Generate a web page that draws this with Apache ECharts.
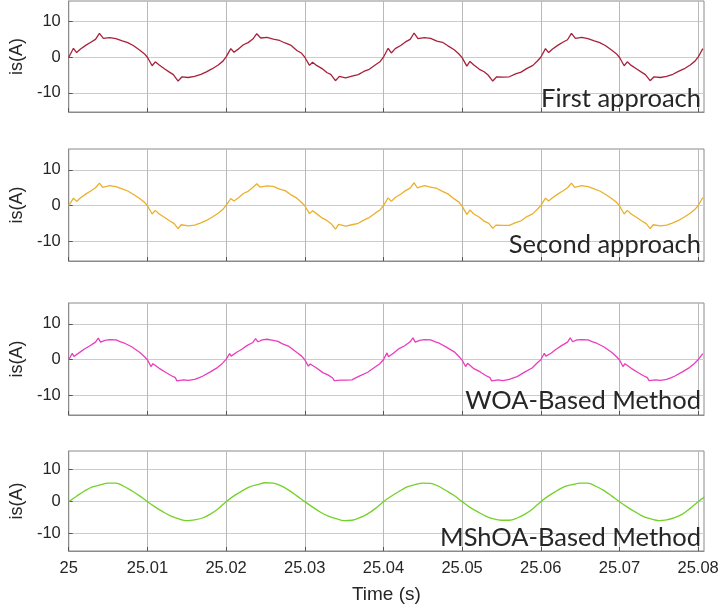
<!DOCTYPE html>
<html>
<head>
<meta charset="utf-8">
<script src="https://cdn.jsdelivr.net/npm/echarts@6/dist/echarts.min.js"></script>
<style>
  html, body { margin: 0; padding: 0; background: #fff; }
  #main { width: 722px; height: 605px; }
</style>
</head>
<body>
<div id="main"></div>
<script>
// tick labels
var xTicks = [25, 25.01, 25.02, 25.03, 25.04, 25.05, 25.06, 25.07, 25.08];
var yTicks = [-10, 0, 10];
var panelNames = ['First approach', 'Second approach', 'WOA-Based Method', 'MShOA-Based Method'];

// is(A) vs time
var firstApproach = [
  [25.0000,0],[25.0006,2.5],[25.0010,1.3],[25.0015,2.3],[25.0022,3.4],[25.0028,4.2],[25.0034,5.0],[25.0039,6.7],[25.0044,5.3],[25.0052,5.5],[25.0060,5.2],[25.0068,4.6],[25.0075,4.1],[25.0082,3.3],[25.0090,2.0],[25.0096,1.0],
  [25.0100,0],[25.0106,-2.4],[25.0110,-1.3],[25.0115,-2.2],[25.0122,-3.3],[25.0128,-4.2],[25.0133,-4.9],[25.0139,-6.7],[25.0144,-5.5],[25.0152,-5.7],[25.0160,-5.4],[25.0168,-4.8],[25.0175,-4.1],[25.0182,-3.3],[25.0190,-2.2],[25.0196,-1.1],
  [25.0200,0.1],[25.0206,2.4],[25.0210,1.4],[25.0215,2.2],[25.0222,3.5],[25.0228,4.1],[25.0234,5.1],[25.0239,6.6],[25.0244,5.4],[25.0252,5.6],[25.0260,5.1],[25.0268,4.7],[25.0275,4.0],[25.0282,3.4],[25.0290,1.9],[25.0296,1.1],
  [25.0300,0],[25.0306,-2.3],[25.0310,-1.4],[25.0315,-2.3],[25.0322,-3.2],[25.0328,-4.3],[25.0333,-4.8],[25.0339,-6.6],[25.0344,-5.4],[25.0352,-5.8],[25.0360,-5.3],[25.0368,-4.9],[25.0375,-4.0],[25.0382,-3.4],[25.0390,-2.1],[25.0396,-1.2],
  [25.0400,0],[25.0406,2.5],[25.0410,1.2],[25.0415,2.4],[25.0422,3.3],[25.0428,4.3],[25.0434,5.0],[25.0439,6.8],[25.0444,5.2],[25.0452,5.5],[25.0460,5.3],[25.0468,4.5],[25.0475,4.2],[25.0482,3.2],[25.0490,2.1],[25.0496,0.9],
  [25.0500,-0.1],[25.0506,-2.5],[25.0510,-1.2],[25.0515,-2.2],[25.0522,-3.4],[25.0528,-4.1],[25.0533,-5.0],[25.0539,-6.7],[25.0544,-5.5],[25.0552,-5.6],[25.0560,-5.5],[25.0568,-4.7],[25.0575,-4.2],[25.0582,-3.2],[25.0590,-2.3],[25.0596,-1.0],
  [25.0600,0],[25.0606,2.4],[25.0610,1.3],[25.0615,2.3],[25.0622,3.4],[25.0628,4.2],[25.0634,4.9],[25.0639,6.7],[25.0644,5.3],[25.0652,5.6],[25.0660,5.2],[25.0668,4.6],[25.0675,4.1],[25.0682,3.3],[25.0690,2.0],[25.0696,1.0],
  [25.0700,0],[25.0706,-2.4],[25.0710,-1.3],[25.0715,-2.3],[25.0722,-3.3],[25.0728,-4.2],[25.0733,-4.9],[25.0739,-6.6],[25.0744,-5.5],[25.0752,-5.7],[25.0760,-5.4],[25.0768,-4.8],[25.0775,-4.0],[25.0782,-3.3],[25.0790,-2.2],[25.0796,-1.1],
  [25.0800,0],[25.0806,2.4]
];
var secondApproach = [
  [25.0000,0],[25.0006,2.1],[25.0010,1.2],[25.0015,2.2],[25.0022,3.3],[25.0028,4.1],[25.0034,5.0],[25.0039,6.3],[25.0043,5.1],[25.0052,5.6],[25.0060,5.3],[25.0068,4.7],[25.0075,4.1],[25.0082,3.2],[25.0090,2.0],[25.0096,1.0],
  [25.0100,0],[25.0106,-2.3],[25.0110,-1.3],[25.0115,-2.3],[25.0122,-3.3],[25.0128,-4.2],[25.0134,-5.0],[25.0139,-6.4],[25.0143,-5.3],[25.0152,-5.6],[25.0160,-5.4],[25.0168,-4.8],[25.0175,-4.1],[25.0182,-3.2],[25.0190,-2.1],[25.0196,-1.0],
  [25.0200,0.1],[25.0206,2.0],[25.0210,1.3],[25.0215,2.1],[25.0222,3.4],[25.0228,4.0],[25.0234,5.1],[25.0239,6.1],[25.0243,5.2],[25.0252,5.5],[25.0260,5.4],[25.0268,4.6],[25.0275,4.2],[25.0282,3.1],[25.0290,2.1],[25.0296,0.9],
  [25.0300,0],[25.0306,-2.2],[25.0310,-1.4],[25.0315,-2.2],[25.0322,-3.4],[25.0328,-4.1],[25.0334,-5.1],[25.0339,-6.5],[25.0343,-5.2],[25.0352,-5.7],[25.0360,-5.3],[25.0368,-4.9],[25.0375,-4.0],[25.0382,-3.3],[25.0390,-2.0],[25.0396,-1.1],
  [25.0400,0],[25.0406,2.2],[25.0410,1.2],[25.0415,2.3],[25.0422,3.2],[25.0428,4.2],[25.0434,4.9],[25.0439,6.4],[25.0443,5.0],[25.0452,5.6],[25.0460,5.2],[25.0468,4.8],[25.0475,4.0],[25.0482,3.3],[25.0490,1.9],[25.0496,1.0],
  [25.0500,-0.1],[25.0506,-2.4],[25.0510,-1.2],[25.0515,-2.3],[25.0522,-3.2],[25.0528,-4.3],[25.0534,-4.9],[25.0539,-6.3],[25.0543,-5.4],[25.0552,-5.5],[25.0560,-5.5],[25.0568,-4.7],[25.0575,-4.2],[25.0582,-3.1],[25.0590,-2.2],[25.0596,-0.9],
  [25.0600,0],[25.0606,2.1],[25.0610,1.3],[25.0615,2.2],[25.0622,3.3],[25.0628,4.1],[25.0634,5.0],[25.0639,6.3],[25.0643,5.1],[25.0652,5.6],[25.0660,5.3],[25.0668,4.7],[25.0675,4.1],[25.0682,3.2],[25.0690,2.0],[25.0696,1.0],
  [25.0700,0],[25.0706,-2.3],[25.0710,-1.3],[25.0715,-2.3],[25.0722,-3.3],[25.0728,-4.2],[25.0734,-5.0],[25.0739,-6.4],[25.0743,-5.3],[25.0752,-5.6],[25.0760,-5.4],[25.0768,-4.8],[25.0775,-4.1],[25.0782,-3.2],[25.0790,-2.1],[25.0796,-1.0],
  [25.0800,0],[25.0806,2.3]
];
var woaMethod = [
  [25.0000,0],[25.00045,1.8],[25.00065,0.9],[25.0013,1.9],[25.0020,3.0],[25.0027,3.9],[25.0034,4.9],[25.00375,6.0],[25.00405,4.9],[25.0046,5.4],[25.0052,5.6],[25.0060,5.5],[25.0066,5.0],[25.0071,4.6],[25.0080,3.6],[25.0090,2.1],[25.0096,0.9],
  [25.0100,0],[25.01045,-1.9],[25.0107,-1.1],[25.0115,-2.4],[25.0123,-3.5],[25.0130,-4.4],[25.01355,-5.0],[25.01375,-5.9],[25.0140,-5.4],[25.0146,-5.6],[25.0152,-5.75],[25.0160,-5.5],[25.0166,-5.0],[25.0170,-4.6],[25.0180,-3.4],[25.0189,-2.2],[25.0195,-1.1],
  [25.0200,0.1],[25.02045,1.7],[25.02065,1.0],[25.0213,2.0],[25.0220,2.9],[25.0227,4.0],[25.0234,4.8],[25.02375,5.9],[25.02405,5.0],[25.0246,5.5],[25.0252,5.7],[25.0260,5.4],[25.0266,5.1],[25.0271,4.5],[25.0280,3.7],[25.0290,2.0],[25.0296,1.0],
  [25.0300,0],[25.03045,-1.8],[25.0307,-1.2],[25.0315,-2.3],[25.0323,-3.6],[25.0330,-4.3],[25.03355,-5.1],[25.03375,-5.8],[25.0340,-5.3],[25.0346,-5.7],[25.0352,-5.7],[25.0360,-5.6],[25.0366,-4.9],[25.0370,-4.5],[25.0380,-3.5],[25.0389,-2.1],[25.0395,-1.2],
  [25.0400,0],[25.04045,1.9],[25.04065,0.8],[25.0413,1.9],[25.0420,3.1],[25.0427,3.9],[25.0434,5.0],[25.04375,6.1],[25.04405,4.9],[25.0446,5.4],[25.0452,5.6],[25.0460,5.5],[25.0466,5.0],[25.0471,4.6],[25.0480,3.5],[25.0490,2.2],[25.0496,0.9],
  [25.0500,-0.1],[25.05045,-1.9],[25.0507,-1.0],[25.0515,-2.5],[25.0523,-3.4],[25.0530,-4.4],[25.05355,-5.0],[25.05375,-5.9],[25.0540,-5.5],[25.0546,-5.6],[25.0552,-5.8],[25.0560,-5.5],[25.0566,-5.0],[25.0570,-4.7],[25.0580,-3.4],[25.0589,-2.3],[25.0595,-1.0],
  [25.0600,0],[25.06045,1.8],[25.06065,1.0],[25.0613,1.8],[25.0620,3.0],[25.0627,4.0],[25.0634,4.9],[25.06375,6.1],[25.06405,5.0],[25.0646,5.5],[25.0652,5.6],[25.0660,5.5],[25.0666,5.0],[25.0671,4.6],[25.0680,3.6],[25.0690,2.1],[25.0696,0.9],
  [25.0700,0],[25.07045,-1.9],[25.0707,-1.1],[25.0715,-2.4],[25.0723,-3.5],[25.0730,-4.4],[25.07355,-5.0],[25.07375,-5.8],[25.0740,-5.4],[25.0746,-5.6],[25.0752,-5.75],[25.0760,-5.5],[25.0766,-5.0],[25.0770,-4.6],[25.0780,-3.4],[25.0789,-2.2],[25.0795,-1.1],
  [25.0800,0],[25.0806,1.7]
];
var mshoaMethod = [
  [25.000,0],[25.001,1.7],[25.002,3.3],[25.003,4.6],[25.004,5.2],[25.005,5.8],[25.006,5.8],[25.007,4.8],[25.008,3.4],[25.009,1.8],
  [25.010,0],[25.011,-1.7],[25.012,-3.2],[25.013,-4.5],[25.014,-5.4],[25.015,-5.9],[25.016,-5.7],[25.017,-5.1],[25.018,-3.9],[25.019,-2.2],
  [25.020,0],[25.021,1.8],[25.022,3.3],[25.023,4.6],[25.024,5.3],[25.025,5.9],[25.026,5.8],[25.027,4.9],[25.028,3.5],[25.029,1.8],
  [25.030,0],[25.031,-1.7],[25.032,-3.3],[25.033,-4.5],[25.034,-5.3],[25.035,-5.9],[25.036,-5.8],[25.037,-5.0],[25.038,-3.8],[25.039,-2.1],
  [25.040,0],[25.041,1.7],[25.042,3.2],[25.043,4.6],[25.044,5.3],[25.045,5.8],[25.046,5.7],[25.047,4.8],[25.048,3.4],[25.049,1.9],
  [25.050,0],[25.051,-1.8],[25.052,-3.2],[25.053,-4.5],[25.054,-5.4],[25.055,-5.8],[25.056,-5.8],[25.057,-5.1],[25.058,-3.9],[25.059,-2.2],
  [25.060,0],[25.061,1.8],[25.062,3.3],[25.063,4.7],[25.064,5.3],[25.065,5.8],[25.066,5.8],[25.067,4.8],[25.068,3.5],[25.069,1.8],
  [25.070,0],[25.071,-1.7],[25.072,-3.2],[25.073,-4.6],[25.074,-5.4],[25.075,-5.9],[25.076,-5.7],[25.077,-5.0],[25.078,-3.9],[25.079,-2.1],
  [25.080,0],[25.0808,1.4]
];

var seriesData = [firstApproach, secondApproach, woaMethod, mshoaMethod];
var lineColors = ['#A8213B', '#EBB02C', '#EA3DBE', '#74D12A'];
var gridTops = [1, 149, 303, 451];
var gridHeights = [111, 112, 112, 102];

var chart = echarts.init(document.getElementById('main'), null, {renderer: 'canvas'});
var font = 'Liberation Sans';
var grids = [], xAxes = [], yAxes = [], series = [], texts = [];

for (var i = 0; i < 4; i++) {
    var last = (i === 3);
    grids.push({
        left: 58, width: 646, top: gridTops[i], height: gridHeights[i],
        show: true, borderColor: '#8a8a8a', borderWidth: 1
    });
    xAxes.push({
        type: 'value', gridIndex: i,
        min: 25, max: 25.08075,
        axisLine: {show: true, onZero: false, lineStyle: {color: '#8a8a8a'}},
        axisTick: {show: true, inside: true, length: 4, customValues: xTicks, lineStyle: {color: '#555'}},
        axisLabel: {show: last, customValues: xTicks, color: '#262626', fontSize: 16.5, fontFamily: font, margin: 9},
        splitLine: {show: true, lineStyle: {color: '#b9b9b9', width: 1}},
        name: last ? 'Time (s)' : '',
        nameLocation: 'middle', nameGap: 34,
        nameTextStyle: {color: '#262626', fontSize: 19, fontFamily: font}
    });
    yAxes.push({
        type: 'value', gridIndex: i,
        min: -15.4, max: 15.8,
        axisLine: {show: true, onZero: false, lineStyle: {color: '#8a8a8a'}},
        axisTick: {show: true, inside: true, length: 4, customValues: yTicks, lineStyle: {color: '#555'}},
        axisLabel: {customValues: yTicks, color: '#262626', fontSize: 16.5, fontFamily: font, margin: 8},
        splitLine: {show: true, lineStyle: {color: '#cccccc', width: 1}},
        name: 'is(A)', nameLocation: 'middle', nameGap: 37, nameRotate: 90,
        nameTextStyle: {color: '#262626', fontSize: 18, fontFamily: font}
    });
    series.push({
        type: 'line', xAxisIndex: i, yAxisIndex: i,
        data: seriesData[i],
        showSymbol: false, smooth: last ? 0.35 : false,
        lineStyle: {color: lineColors[i], width: 1.3},
        itemStyle: {color: lineColors[i]},
        z: 3
    });
}

/* 面板右下角的方法名 */
var textTops = [86, 232, 388, 525];
for (var j = 0; j < 4; j++) {
    texts.push({
        type: 'text', right: 21, top: textTops[j], z: 10,
        style: {text: panelNames[j], font: '25.5px Lato', fill: '#262626'}
    });
}

chart.setOption({
    animation: false,
    backgroundColor: '#fff',
    grid: grids,
    xAxis: xAxes,
    yAxis: yAxes,
    series: series,
    graphic: texts
});
</script>
</body>
</html>
